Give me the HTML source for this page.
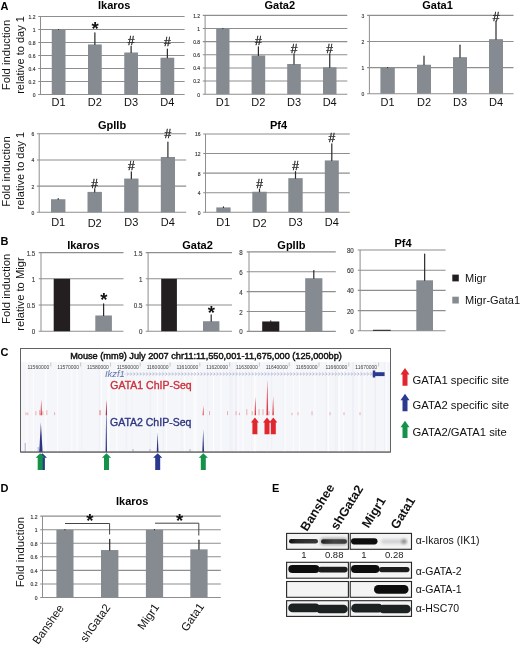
<!DOCTYPE html>
<html><head><meta charset="utf-8"><style>
html,body{margin:0;padding:0;background:#fff;}
body{width:520px;height:646px;overflow:hidden;}
svg{display:block;filter:blur(0.25px);font-family:"Liberation Sans", sans-serif;}
</style></head><body>
<svg width="520" height="646" viewBox="0 0 520 646">
<text x="0.5" y="10" font-size="11" font-weight="bold" text-anchor="start" fill="#000">A</text>
<text x="9.8" y="55" font-size="11.3" text-anchor="middle" fill="#111" transform="rotate(-90 9.8 55)">Fold induction</text>
<text x="23.7" y="55" font-size="11" text-anchor="middle" fill="#111" transform="rotate(-90 23.7 55)">relative to day 1</text>
<line x1="38.2" y1="94.5" x2="184.6" y2="94.5" stroke="#8e8e8e" stroke-width="1.1"/>
<text x="35.5" y="96.9" font-size="5" text-anchor="end" fill="#383838" stroke="#383838" stroke-width="0.15">0</text>
<line x1="38.2" y1="81.5" x2="184.6" y2="81.5" stroke="#8e8e8e" stroke-width="1.1"/>
<text x="35.5" y="83.9" font-size="5" text-anchor="end" fill="#383838" stroke="#383838" stroke-width="0.15">0.2</text>
<line x1="38.2" y1="68.5" x2="184.6" y2="68.5" stroke="#8e8e8e" stroke-width="1.1"/>
<text x="35.5" y="70.9" font-size="5" text-anchor="end" fill="#383838" stroke="#383838" stroke-width="0.15">0.4</text>
<line x1="38.2" y1="55.5" x2="184.6" y2="55.5" stroke="#8e8e8e" stroke-width="1.1"/>
<text x="35.5" y="57.9" font-size="5" text-anchor="end" fill="#383838" stroke="#383838" stroke-width="0.15">0.6</text>
<line x1="38.2" y1="42.5" x2="184.6" y2="42.5" stroke="#8e8e8e" stroke-width="1.1"/>
<text x="35.5" y="44.9" font-size="5" text-anchor="end" fill="#383838" stroke="#383838" stroke-width="0.15">0.8</text>
<line x1="38.2" y1="29.5" x2="184.6" y2="29.5" stroke="#8e8e8e" stroke-width="1.1"/>
<text x="35.5" y="31.9" font-size="5" text-anchor="end" fill="#383838" stroke="#383838" stroke-width="0.15">1</text>
<line x1="38.2" y1="16.5" x2="184.6" y2="16.5" stroke="#8e8e8e" stroke-width="1.1"/>
<text x="35.5" y="18.9" font-size="5" text-anchor="end" fill="#383838" stroke="#383838" stroke-width="0.15">1.2</text>
<line x1="40.5" y1="16.5" x2="40.5" y2="94.5" stroke="#8e8e8e" stroke-width="1"/>
<rect x="51.75" y="29.5" width="13.75" height="65.0" fill="#868b92"/>
<line x1="58.625" y1="29.5" x2="58.625" y2="29.5" stroke="#2a2a2a" stroke-width="1.2" stroke-linecap="round"/>
<rect x="88" y="44.449999999999996" width="13.75" height="50.050000000000004" fill="#868b92"/>
<line x1="94.875" y1="32.75" x2="94.875" y2="44.449999999999996" stroke="#2a2a2a" stroke-width="1.2" stroke-linecap="round"/>
<rect x="124.25" y="52.51" width="13.75" height="41.99" fill="#868b92"/>
<line x1="131.125" y1="46.4" x2="131.125" y2="52.51" stroke="#2a2a2a" stroke-width="1.2" stroke-linecap="round"/>
<rect x="160.5" y="57.71" width="13.75" height="36.79" fill="#868b92"/>
<line x1="167.375" y1="49.0" x2="167.375" y2="57.71" stroke="#2a2a2a" stroke-width="1.2" stroke-linecap="round"/>
<text x="114.2" y="9.1" font-size="11" font-weight="bold" text-anchor="middle" fill="#000">Ikaros</text>
<text x="95.2" y="35.2" font-size="18.5" font-weight="bold" text-anchor="middle" fill="#111">*</text>
<text x="131" y="44.5" font-size="12" text-anchor="middle" fill="#222" stroke="#222" stroke-width="0.3">#</text>
<text x="167.4" y="46.0" font-size="12" text-anchor="middle" fill="#222" stroke="#222" stroke-width="0.3">#</text>
<text x="58.6" y="105.8" font-size="11" text-anchor="middle" fill="#111">D1</text>
<text x="94.9" y="106.39999999999999" font-size="11" text-anchor="middle" fill="#111">D2</text>
<text x="131.1" y="105.8" font-size="11" text-anchor="middle" fill="#111">D3</text>
<text x="167.4" y="105.8" font-size="11" text-anchor="middle" fill="#111">D4</text>
<line x1="202.79999999999998" y1="94.2" x2="347.3" y2="94.2" stroke="#8e8e8e" stroke-width="1.1"/>
<text x="200.1" y="96.6" font-size="5" text-anchor="end" fill="#383838" stroke="#383838" stroke-width="0.15">0</text>
<line x1="202.79999999999998" y1="81.066" x2="347.3" y2="81.066" stroke="#8e8e8e" stroke-width="1.1"/>
<text x="200.1" y="83.47" font-size="5" text-anchor="end" fill="#383838" stroke="#383838" stroke-width="0.15">0.2</text>
<line x1="202.79999999999998" y1="67.932" x2="347.3" y2="67.932" stroke="#8e8e8e" stroke-width="1.1"/>
<text x="200.1" y="70.33" font-size="5" text-anchor="end" fill="#383838" stroke="#383838" stroke-width="0.15">0.4</text>
<line x1="202.79999999999998" y1="54.798" x2="347.3" y2="54.798" stroke="#8e8e8e" stroke-width="1.1"/>
<text x="200.1" y="57.2" font-size="5" text-anchor="end" fill="#383838" stroke="#383838" stroke-width="0.15">0.6</text>
<line x1="202.79999999999998" y1="41.664" x2="347.3" y2="41.664" stroke="#8e8e8e" stroke-width="1.1"/>
<text x="200.1" y="44.06" font-size="5" text-anchor="end" fill="#383838" stroke="#383838" stroke-width="0.15">0.8</text>
<line x1="202.79999999999998" y1="28.53" x2="347.3" y2="28.53" stroke="#8e8e8e" stroke-width="1.1"/>
<text x="200.1" y="30.93" font-size="5" text-anchor="end" fill="#383838" stroke="#383838" stroke-width="0.15">1</text>
<line x1="202.79999999999998" y1="15.396" x2="347.3" y2="15.396" stroke="#8e8e8e" stroke-width="1.1"/>
<text x="200.1" y="17.8" font-size="5" text-anchor="end" fill="#383838" stroke="#383838" stroke-width="0.15">1.2</text>
<line x1="205.1" y1="15.396" x2="205.1" y2="94.2" stroke="#8e8e8e" stroke-width="1"/>
<rect x="216.2" y="28.53" width="13.300000000000011" height="65.67" fill="#868b92"/>
<line x1="222.85" y1="28.53" x2="222.85" y2="28.53" stroke="#2a2a2a" stroke-width="1.2" stroke-linecap="round"/>
<rect x="251.6" y="55.4547" width="13.599999999999994" height="38.7453" fill="#868b92"/>
<line x1="258.4" y1="46.9176" x2="258.4" y2="55.4547" stroke="#2a2a2a" stroke-width="1.2" stroke-linecap="round"/>
<rect x="287.2" y="63.9918" width="13.600000000000023" height="30.208200000000005" fill="#868b92"/>
<line x1="294.0" y1="53.81295" x2="294.0" y2="63.9918" stroke="#2a2a2a" stroke-width="1.2" stroke-linecap="round"/>
<rect x="323" y="67.2753" width="13.5" height="26.9247" fill="#868b92"/>
<line x1="329.75" y1="53.81295" x2="329.75" y2="67.2753" stroke="#2a2a2a" stroke-width="1.2" stroke-linecap="round"/>
<text x="279.8" y="9.1" font-size="11" font-weight="bold" text-anchor="middle" fill="#000">Gata2</text>
<text x="258.4" y="44.8" font-size="12" text-anchor="middle" fill="#222" stroke="#222" stroke-width="0.3">#</text>
<text x="294" y="52.9" font-size="12" text-anchor="middle" fill="#222" stroke="#222" stroke-width="0.3">#</text>
<text x="329.7" y="52.9" font-size="12" text-anchor="middle" fill="#222" stroke="#222" stroke-width="0.3">#</text>
<text x="222.9" y="105.8" font-size="11" text-anchor="middle" fill="#111">D1</text>
<text x="258.4" y="106.39999999999999" font-size="11" text-anchor="middle" fill="#111">D2</text>
<text x="294.0" y="105.8" font-size="11" text-anchor="middle" fill="#111">D3</text>
<text x="329.7" y="105.8" font-size="11" text-anchor="middle" fill="#111">D4</text>
<line x1="367.09999999999997" y1="93.7" x2="513.5" y2="93.7" stroke="#8e8e8e" stroke-width="1.1"/>
<text x="364.4" y="96.1" font-size="5" text-anchor="end" fill="#383838" stroke="#383838" stroke-width="0.15">0</text>
<line x1="367.09999999999997" y1="67.6" x2="513.5" y2="67.6" stroke="#8e8e8e" stroke-width="1.1"/>
<text x="364.4" y="70.0" font-size="5" text-anchor="end" fill="#383838" stroke="#383838" stroke-width="0.15">1</text>
<line x1="367.09999999999997" y1="41.5" x2="513.5" y2="41.5" stroke="#8e8e8e" stroke-width="1.1"/>
<text x="364.4" y="43.9" font-size="5" text-anchor="end" fill="#383838" stroke="#383838" stroke-width="0.15">2</text>
<line x1="367.09999999999997" y1="15.399999999999991" x2="513.5" y2="15.399999999999991" stroke="#8e8e8e" stroke-width="1.1"/>
<text x="364.4" y="17.8" font-size="5" text-anchor="end" fill="#383838" stroke="#383838" stroke-width="0.15">3</text>
<line x1="369.4" y1="15.399999999999991" x2="369.4" y2="93.7" stroke="#8e8e8e" stroke-width="1"/>
<rect x="380.4" y="67.6" width="14.400000000000034" height="26.10000000000001" fill="#868b92"/>
<line x1="387.6" y1="67.6" x2="387.6" y2="67.6" stroke="#2a2a2a" stroke-width="1.2" stroke-linecap="round"/>
<rect x="417" y="64.729" width="14" height="28.971000000000004" fill="#868b92"/>
<line x1="424.0" y1="56.116" x2="424.0" y2="64.729" stroke="#2a2a2a" stroke-width="1.2" stroke-linecap="round"/>
<rect x="453" y="57.160000000000004" width="14" height="36.54" fill="#868b92"/>
<line x1="460.0" y1="45.153999999999996" x2="460.0" y2="57.160000000000004" stroke="#2a2a2a" stroke-width="1.2" stroke-linecap="round"/>
<rect x="489" y="39.151" width="14" height="54.549" fill="#868b92"/>
<line x1="496.0" y1="21.14200000000001" x2="496.0" y2="39.151" stroke="#2a2a2a" stroke-width="1.2" stroke-linecap="round"/>
<text x="437.5" y="9.1" font-size="11" font-weight="bold" text-anchor="middle" fill="#000">Gata1</text>
<text x="496" y="20.8" font-size="12" text-anchor="middle" fill="#222" stroke="#222" stroke-width="0.3">#</text>
<text x="387.6" y="105.8" font-size="11" text-anchor="middle" fill="#111">D1</text>
<text x="424" y="106.39999999999999" font-size="11" text-anchor="middle" fill="#111">D2</text>
<text x="460" y="105.8" font-size="11" text-anchor="middle" fill="#111">D3</text>
<text x="496" y="105.8" font-size="11" text-anchor="middle" fill="#111">D4</text>
<text x="9.8" y="171.5" font-size="11.3" text-anchor="middle" fill="#111" transform="rotate(-90 9.8 171.5)">Fold induction</text>
<text x="23.7" y="170.6" font-size="11" text-anchor="middle" fill="#111" transform="rotate(-90 23.7 170.6)">relative to day 1</text>
<line x1="36.900000000000006" y1="212.3" x2="186.2" y2="212.3" stroke="#8e8e8e" stroke-width="1.1"/>
<text x="34.2" y="214.7" font-size="5" text-anchor="end" fill="#383838" stroke="#383838" stroke-width="0.15">0</text>
<line x1="36.900000000000006" y1="186.14000000000001" x2="186.2" y2="186.14000000000001" stroke="#8e8e8e" stroke-width="1.1"/>
<text x="34.2" y="188.54" font-size="5" text-anchor="end" fill="#383838" stroke="#383838" stroke-width="0.15">2</text>
<line x1="36.900000000000006" y1="159.98000000000002" x2="186.2" y2="159.98000000000002" stroke="#8e8e8e" stroke-width="1.1"/>
<text x="34.2" y="162.38" font-size="5" text-anchor="end" fill="#383838" stroke="#383838" stroke-width="0.15">4</text>
<line x1="36.900000000000006" y1="133.82" x2="186.2" y2="133.82" stroke="#8e8e8e" stroke-width="1.1"/>
<text x="34.2" y="136.22" font-size="5" text-anchor="end" fill="#383838" stroke="#383838" stroke-width="0.15">6</text>
<line x1="39.2" y1="133.82" x2="39.2" y2="212.3" stroke="#8e8e8e" stroke-width="1"/>
<rect x="51" y="199.22" width="14.400000000000006" height="13.080000000000013" fill="#868b92"/>
<line x1="58.2" y1="198.566" x2="58.2" y2="199.22" stroke="#2a2a2a" stroke-width="1.2" stroke-linecap="round"/>
<rect x="87.5" y="191.89520000000002" width="14.400000000000006" height="20.404799999999994" fill="#868b92"/>
<line x1="94.7" y1="188.756" x2="94.7" y2="191.89520000000002" stroke="#2a2a2a" stroke-width="1.2" stroke-linecap="round"/>
<rect x="124.2" y="178.55360000000002" width="14.299999999999997" height="33.746399999999994" fill="#868b92"/>
<line x1="131.35" y1="171.752" x2="131.35" y2="178.55360000000002" stroke="#2a2a2a" stroke-width="1.2" stroke-linecap="round"/>
<rect x="160.8" y="156.9716" width="14.199999999999989" height="55.328400000000016" fill="#868b92"/>
<line x1="167.9" y1="142.06040000000002" x2="167.9" y2="156.9716" stroke="#2a2a2a" stroke-width="1.2" stroke-linecap="round"/>
<text x="112.1" y="129.4" font-size="11" font-weight="bold" text-anchor="middle" fill="#000">GpIIb</text>
<text x="94.7" y="187.60000000000002" font-size="12" text-anchor="middle" fill="#222" stroke="#222" stroke-width="0.3">#</text>
<text x="131.3" y="170.3" font-size="12" text-anchor="middle" fill="#222" stroke="#222" stroke-width="0.3">#</text>
<text x="167.9" y="138.3" font-size="12" text-anchor="middle" fill="#222" stroke="#222" stroke-width="0.3">#</text>
<text x="58.2" y="225.6" font-size="11" text-anchor="middle" fill="#111">D1</text>
<text x="94.7" y="226.9" font-size="11" text-anchor="middle" fill="#111">D2</text>
<text x="131.3" y="225.6" font-size="11" text-anchor="middle" fill="#111">D3</text>
<text x="167.9" y="225.6" font-size="11" text-anchor="middle" fill="#111">D4</text>
<line x1="203.2" y1="212.3" x2="349.8" y2="212.3" stroke="#8e8e8e" stroke-width="1.1"/>
<text x="200.5" y="214.7" font-size="5" text-anchor="end" fill="#383838" stroke="#383838" stroke-width="0.15">0</text>
<line x1="203.2" y1="192.72400000000002" x2="349.8" y2="192.72400000000002" stroke="#8e8e8e" stroke-width="1.1"/>
<text x="200.5" y="195.12" font-size="5" text-anchor="end" fill="#383838" stroke="#383838" stroke-width="0.15">4</text>
<line x1="203.2" y1="173.14800000000002" x2="349.8" y2="173.14800000000002" stroke="#8e8e8e" stroke-width="1.1"/>
<text x="200.5" y="175.55" font-size="5" text-anchor="end" fill="#383838" stroke="#383838" stroke-width="0.15">8</text>
<line x1="203.2" y1="153.572" x2="349.8" y2="153.572" stroke="#8e8e8e" stroke-width="1.1"/>
<text x="200.5" y="155.97" font-size="5" text-anchor="end" fill="#383838" stroke="#383838" stroke-width="0.15">12</text>
<line x1="203.2" y1="133.996" x2="349.8" y2="133.996" stroke="#8e8e8e" stroke-width="1.1"/>
<text x="200.5" y="136.4" font-size="5" text-anchor="end" fill="#383838" stroke="#383838" stroke-width="0.15">16</text>
<line x1="205.5" y1="133.996" x2="205.5" y2="212.3" stroke="#8e8e8e" stroke-width="1"/>
<rect x="216.3" y="207.406" width="14.299999999999983" height="4.8940000000000055" fill="#868b92"/>
<line x1="223.45" y1="206.91660000000002" x2="223.45" y2="207.406" stroke="#2a2a2a" stroke-width="1.2" stroke-linecap="round"/>
<rect x="252.3" y="191.7452" width="14.399999999999977" height="20.5548" fill="#868b92"/>
<line x1="259.5" y1="189.0535" x2="259.5" y2="191.7452" stroke="#2a2a2a" stroke-width="1.2" stroke-linecap="round"/>
<rect x="288.3" y="178.13988" width="14.399999999999977" height="34.160120000000006" fill="#868b92"/>
<line x1="295.5" y1="171.6798" x2="295.5" y2="178.13988" stroke="#2a2a2a" stroke-width="1.2" stroke-linecap="round"/>
<rect x="324.8" y="160.42360000000002" width="14.0" height="51.87639999999999" fill="#868b92"/>
<line x1="331.8" y1="143.784" x2="331.8" y2="160.42360000000002" stroke="#2a2a2a" stroke-width="1.2" stroke-linecap="round"/>
<text x="278.5" y="129.4" font-size="11" font-weight="bold" text-anchor="middle" fill="#000">Pf4</text>
<text x="259.5" y="187.8" font-size="12" text-anchor="middle" fill="#222" stroke="#222" stroke-width="0.3">#</text>
<text x="295.5" y="170.3" font-size="12" text-anchor="middle" fill="#222" stroke="#222" stroke-width="0.3">#</text>
<text x="331.8" y="142.0" font-size="12" text-anchor="middle" fill="#222" stroke="#222" stroke-width="0.3">#</text>
<text x="223.4" y="225.6" font-size="11" text-anchor="middle" fill="#111">D1</text>
<text x="259.5" y="226.9" font-size="11" text-anchor="middle" fill="#111">D2</text>
<text x="295.5" y="225.6" font-size="11" text-anchor="middle" fill="#111">D3</text>
<text x="331.8" y="225.6" font-size="11" text-anchor="middle" fill="#111">D4</text>
<text x="0.5" y="245.4" font-size="11" font-weight="bold" text-anchor="start" fill="#000">B</text>
<text x="9.6" y="288.8" font-size="11.3" text-anchor="middle" fill="#111" transform="rotate(-90 9.6 288.8)">Fold induction</text>
<text x="23.6" y="294" font-size="11.2" text-anchor="middle" fill="#111" transform="rotate(-90 23.6 294)">relative to Migr</text>
<line x1="38.7" y1="331.2" x2="123.5" y2="331.2" stroke="#8e8e8e" stroke-width="1.1"/>
<text x="0" y="0" font-size="7.6" text-anchor="end" fill="#383838" transform="translate(35.3 334.18) scale(0.82 1)" stroke="#383838" stroke-width="0.15">0</text>
<line x1="38.7" y1="305.0" x2="123.5" y2="305.0" stroke="#8e8e8e" stroke-width="1.1"/>
<text x="0" y="0" font-size="7.6" text-anchor="end" fill="#383838" transform="translate(35.3 307.98) scale(0.82 1)" stroke="#383838" stroke-width="0.15">0.5</text>
<line x1="38.7" y1="278.8" x2="123.5" y2="278.8" stroke="#8e8e8e" stroke-width="1.1"/>
<text x="0" y="0" font-size="7.6" text-anchor="end" fill="#383838" transform="translate(35.3 281.78) scale(0.82 1)" stroke="#383838" stroke-width="0.15">1</text>
<line x1="38.7" y1="252.6" x2="123.5" y2="252.6" stroke="#8e8e8e" stroke-width="1.1"/>
<text x="0" y="0" font-size="7.6" text-anchor="end" fill="#383838" transform="translate(35.3 255.58) scale(0.82 1)" stroke="#383838" stroke-width="0.15">1.5</text>
<line x1="41.0" y1="252.6" x2="41.0" y2="331.2" stroke="#8e8e8e" stroke-width="1"/>
<rect x="53.7" y="278.8" width="16.39999999999999" height="52.39999999999998" fill="#231f20"/>
<rect x="95.3" y="315.48" width="16.60000000000001" height="15.71999999999997" fill="#868b92"/>
<line x1="103.6" y1="303.952" x2="103.6" y2="315.48" stroke="#2a2a2a" stroke-width="1.2" stroke-linecap="round"/>
<text x="83.4" y="249.2" font-size="11" font-weight="bold" text-anchor="middle" fill="#000">Ikaros</text>
<text x="103.8" y="306.40000000000003" font-size="18.5" font-weight="bold" text-anchor="middle" fill="#111">*</text>
<line x1="145.79999999999998" y1="331.2" x2="232" y2="331.2" stroke="#8e8e8e" stroke-width="1.1"/>
<text x="0" y="0" font-size="7.6" text-anchor="end" fill="#383838" transform="translate(142.4 334.18) scale(0.82 1)" stroke="#383838" stroke-width="0.15">0</text>
<line x1="145.79999999999998" y1="305.0" x2="232" y2="305.0" stroke="#8e8e8e" stroke-width="1.1"/>
<text x="0" y="0" font-size="7.6" text-anchor="end" fill="#383838" transform="translate(142.4 307.98) scale(0.82 1)" stroke="#383838" stroke-width="0.15">0.5</text>
<line x1="145.79999999999998" y1="278.8" x2="232" y2="278.8" stroke="#8e8e8e" stroke-width="1.1"/>
<text x="0" y="0" font-size="7.6" text-anchor="end" fill="#383838" transform="translate(142.4 281.78) scale(0.82 1)" stroke="#383838" stroke-width="0.15">1</text>
<line x1="145.79999999999998" y1="252.6" x2="232" y2="252.6" stroke="#8e8e8e" stroke-width="1.1"/>
<text x="0" y="0" font-size="7.6" text-anchor="end" fill="#383838" transform="translate(142.4 255.58) scale(0.82 1)" stroke="#383838" stroke-width="0.15">1.5</text>
<line x1="148.1" y1="252.6" x2="148.1" y2="331.2" stroke="#8e8e8e" stroke-width="1"/>
<rect x="161.2" y="278.8" width="15.700000000000017" height="52.39999999999998" fill="#231f20"/>
<rect x="203" y="321.24399999999997" width="16.400000000000006" height="9.956000000000017" fill="#868b92"/>
<line x1="211.2" y1="314.956" x2="211.2" y2="321.24399999999997" stroke="#2a2a2a" stroke-width="1.2" stroke-linecap="round"/>
<text x="197.5" y="249.2" font-size="11" font-weight="bold" text-anchor="middle" fill="#000">Gata2</text>
<text x="211.4" y="318.5" font-size="18.5" font-weight="bold" text-anchor="middle" fill="#111">*</text>
<line x1="246.7" y1="331.4" x2="335.8" y2="331.4" stroke="#8e8e8e" stroke-width="1.1"/>
<text x="0" y="0" font-size="7.6" text-anchor="end" fill="#383838" transform="translate(242.7 334.38) scale(0.82 1)" stroke="#383838" stroke-width="0.15">0</text>
<line x1="246.7" y1="311.52" x2="335.8" y2="311.52" stroke="#8e8e8e" stroke-width="1.1"/>
<text x="0" y="0" font-size="7.6" text-anchor="end" fill="#383838" transform="translate(242.7 314.5) scale(0.82 1)" stroke="#383838" stroke-width="0.15">2</text>
<line x1="246.7" y1="291.64" x2="335.8" y2="291.64" stroke="#8e8e8e" stroke-width="1.1"/>
<text x="0" y="0" font-size="7.6" text-anchor="end" fill="#383838" transform="translate(242.7 294.62) scale(0.82 1)" stroke="#383838" stroke-width="0.15">4</text>
<line x1="246.7" y1="271.76" x2="335.8" y2="271.76" stroke="#8e8e8e" stroke-width="1.1"/>
<text x="0" y="0" font-size="7.6" text-anchor="end" fill="#383838" transform="translate(242.7 274.74) scale(0.82 1)" stroke="#383838" stroke-width="0.15">6</text>
<line x1="246.7" y1="251.88" x2="335.8" y2="251.88" stroke="#8e8e8e" stroke-width="1.1"/>
<text x="0" y="0" font-size="7.6" text-anchor="end" fill="#383838" transform="translate(242.7 254.86) scale(0.82 1)" stroke="#383838" stroke-width="0.15">8</text>
<line x1="249" y1="251.88" x2="249" y2="331.4" stroke="#8e8e8e" stroke-width="1"/>
<rect x="262.2" y="321.46" width="17.100000000000023" height="9.939999999999998" fill="#231f20"/>
<line x1="270.75" y1="320.96299999999997" x2="270.75" y2="321.46" stroke="#2a2a2a" stroke-width="1.2" stroke-linecap="round"/>
<rect x="305.2" y="278.221" width="17.19999999999999" height="53.178999999999974" fill="#868b92"/>
<line x1="313.79999999999995" y1="270.56719999999996" x2="313.79999999999995" y2="278.221" stroke="#2a2a2a" stroke-width="1.2" stroke-linecap="round"/>
<text x="291.4" y="248.5" font-size="11" font-weight="bold" text-anchor="middle" fill="#000">GpIIb</text>
<line x1="357.8" y1="330.8" x2="445.6" y2="330.8" stroke="#8e8e8e" stroke-width="1.1"/>
<text x="0" y="0" font-size="7.6" text-anchor="end" fill="#383838" transform="translate(353.8 333.78) scale(0.82 1)" stroke="#383838" stroke-width="0.15">0</text>
<line x1="357.8" y1="310.6" x2="445.6" y2="310.6" stroke="#8e8e8e" stroke-width="1.1"/>
<text x="0" y="0" font-size="7.6" text-anchor="end" fill="#383838" transform="translate(353.8 313.58) scale(0.82 1)" stroke="#383838" stroke-width="0.15">20</text>
<line x1="357.8" y1="290.40000000000003" x2="445.6" y2="290.40000000000003" stroke="#8e8e8e" stroke-width="1.1"/>
<text x="0" y="0" font-size="7.6" text-anchor="end" fill="#383838" transform="translate(353.8 293.38) scale(0.82 1)" stroke="#383838" stroke-width="0.15">40</text>
<line x1="357.8" y1="270.2" x2="445.6" y2="270.2" stroke="#8e8e8e" stroke-width="1.1"/>
<text x="0" y="0" font-size="7.6" text-anchor="end" fill="#383838" transform="translate(353.8 273.18) scale(0.82 1)" stroke="#383838" stroke-width="0.15">60</text>
<line x1="357.8" y1="250.0" x2="445.6" y2="250.0" stroke="#8e8e8e" stroke-width="1.1"/>
<text x="0" y="0" font-size="7.6" text-anchor="end" fill="#383838" transform="translate(353.8 252.98) scale(0.82 1)" stroke="#383838" stroke-width="0.15">80</text>
<line x1="360.1" y1="250.0" x2="360.1" y2="330.8" stroke="#8e8e8e" stroke-width="1"/>
<rect x="373" y="329.79" width="17.69999999999999" height="1.009999999999991" fill="#231f20"/>
<rect x="416.3" y="280.3" width="16.69999999999999" height="50.5" fill="#868b92"/>
<line x1="424.65" y1="254.04000000000002" x2="424.65" y2="280.3" stroke="#2a2a2a" stroke-width="1.2" stroke-linecap="round"/>
<text x="403" y="247.3" font-size="11" font-weight="bold" text-anchor="middle" fill="#000">Pf4</text>
<rect x="452.3" y="274.6" width="6.5" height="6.8" fill="#231f20"/>
<text x="465" y="281.8" font-size="11" text-anchor="start" fill="#111">Migr</text>
<rect x="452.3" y="296.7" width="6.5" height="6.8" fill="#868b92"/>
<text x="465" y="303.8" font-size="11" text-anchor="start" fill="#111">Migr-Gata1</text>
<text x="0.5" y="355.5" font-size="11" font-weight="bold" text-anchor="start" fill="#000">C</text>
<rect x="20.5" y="348.5" width="370" height="103.5" fill="#ffffff" stroke="#626262" stroke-width="1"/>
<rect x="21" y="362" width="369" height="89.5" fill="#f5f6f9"/>
<path d="M109.1 362V451.5 M221.2 362V451.5 M157.4 362V451.5 M243.0 362V451.5 M251.0 362V451.5 M46.0 362V451.5 M26.8 362V451.5 M328.5 362V451.5 M116.9 362V451.5 M107.8 362V451.5 M386.4 362V451.5 M194.1 362V451.5 M328.1 362V451.5 M196.3 362V451.5 M255.9 362V451.5 M77.1 362V451.5 M254.4 362V451.5 M339.7 362V451.5 M213.5 362V451.5 M293.3 362V451.5 M267.7 362V451.5 M45.4 362V451.5 M299.5 362V451.5 M238.3 362V451.5 M132.3 362V451.5 M33.4 362V451.5 M338.8 362V451.5 M195.0 362V451.5 M285.1 362V451.5 M343.6 362V451.5 M283.4 362V451.5 M359.1 362V451.5 M166.6 362V451.5 M315.1 362V451.5 M184.7 362V451.5 M364.4 362V451.5 M343.7 362V451.5 M57.7 362V451.5 M71.8 362V451.5 M101.4 362V451.5" stroke="#fdfdff" stroke-width="1"/>
<path d="M375.4 362V451.5 M181.6 362V451.5 M251.4 362V451.5 M132.2 362V451.5 M207.7 362V451.5 M163.2 362V451.5 M150.4 362V451.5 M236.1 362V451.5 M235.8 362V451.5 M352.9 362V451.5 M271.6 362V451.5 M362.0 362V451.5 M335.4 362V451.5 M384.7 362V451.5 M267.7 362V451.5 M81.7 362V451.5 M337.0 362V451.5 M375.1 362V451.5 M353.1 362V451.5 M230.3 362V451.5 M283.3 362V451.5 M99.3 362V451.5 M326.4 362V451.5 M231.9 362V451.5 M126.3 362V451.5" stroke="#eceef4" stroke-width="0.8"/>
<text x="206" y="359.3" font-size="9.2" text-anchor="middle" fill="#111" stroke="#111" stroke-width="0.45">Mouse (mm9) July 2007 chr11:11,550,001-11,675,000 (125,000bp)</text>
<text x="49.3" y="368.9" font-size="5.0" text-anchor="end" fill="#444">11560000</text>
<line x1="50.8" y1="362.5" x2="50.8" y2="366.5" stroke="#aaa" stroke-width="0.6"/>
<text x="79.1" y="368.9" font-size="5.0" text-anchor="end" fill="#444">11570000</text>
<line x1="80.6" y1="362.5" x2="80.6" y2="366.5" stroke="#aaa" stroke-width="0.6"/>
<text x="108.9" y="368.9" font-size="5.0" text-anchor="end" fill="#444">11580000</text>
<line x1="110.4" y1="362.5" x2="110.4" y2="366.5" stroke="#aaa" stroke-width="0.6"/>
<text x="138.7" y="368.9" font-size="5.0" text-anchor="end" fill="#444">11590000</text>
<line x1="140.2" y1="362.5" x2="140.2" y2="366.5" stroke="#aaa" stroke-width="0.6"/>
<text x="168.5" y="368.9" font-size="5.0" text-anchor="end" fill="#444">11600000</text>
<line x1="170.0" y1="362.5" x2="170.0" y2="366.5" stroke="#aaa" stroke-width="0.6"/>
<text x="198.3" y="368.9" font-size="5.0" text-anchor="end" fill="#444">11610000</text>
<line x1="199.8" y1="362.5" x2="199.8" y2="366.5" stroke="#aaa" stroke-width="0.6"/>
<text x="228.10000000000002" y="368.9" font-size="5.0" text-anchor="end" fill="#444">11620000</text>
<line x1="229.60000000000002" y1="362.5" x2="229.60000000000002" y2="366.5" stroke="#aaa" stroke-width="0.6"/>
<text x="257.9" y="368.9" font-size="5.0" text-anchor="end" fill="#444">11630000</text>
<line x1="259.4" y1="362.5" x2="259.4" y2="366.5" stroke="#aaa" stroke-width="0.6"/>
<text x="287.7" y="368.9" font-size="5.0" text-anchor="end" fill="#444">11640000</text>
<line x1="289.2" y1="362.5" x2="289.2" y2="366.5" stroke="#aaa" stroke-width="0.6"/>
<text x="317.5" y="368.9" font-size="5.0" text-anchor="end" fill="#444">11650000</text>
<line x1="319.0" y1="362.5" x2="319.0" y2="366.5" stroke="#aaa" stroke-width="0.6"/>
<text x="347.3" y="368.9" font-size="5.0" text-anchor="end" fill="#444">11660000</text>
<line x1="348.8" y1="362.5" x2="348.8" y2="366.5" stroke="#aaa" stroke-width="0.6"/>
<text x="377.1" y="368.9" font-size="5.0" text-anchor="end" fill="#444">11670000</text>
<line x1="378.6" y1="362.5" x2="378.6" y2="366.5" stroke="#aaa" stroke-width="0.6"/>
<text x="105" y="377.0" font-size="9.4" font-style="italic" text-anchor="start" fill="#5d6fa8">Ikzf1</text>
<path d="M127.0 372.6l1.6 1.4l-1.6 1.4 M130.2 372.6l1.6 1.4l-1.6 1.4 M133.4 372.6l1.6 1.4l-1.6 1.4 M136.6 372.6l1.6 1.4l-1.6 1.4 M139.8 372.6l1.6 1.4l-1.6 1.4 M143.0 372.6l1.6 1.4l-1.6 1.4 M146.2 372.6l1.6 1.4l-1.6 1.4 M149.4 372.6l1.6 1.4l-1.6 1.4 M152.6 372.6l1.6 1.4l-1.6 1.4 M155.8 372.6l1.6 1.4l-1.6 1.4 M159.0 372.6l1.6 1.4l-1.6 1.4 M162.2 372.6l1.6 1.4l-1.6 1.4 M165.4 372.6l1.6 1.4l-1.6 1.4 M168.6 372.6l1.6 1.4l-1.6 1.4 M171.8 372.6l1.6 1.4l-1.6 1.4 M175.0 372.6l1.6 1.4l-1.6 1.4 M178.2 372.6l1.6 1.4l-1.6 1.4 M181.4 372.6l1.6 1.4l-1.6 1.4 M184.6 372.6l1.6 1.4l-1.6 1.4 M187.8 372.6l1.6 1.4l-1.6 1.4 M191.0 372.6l1.6 1.4l-1.6 1.4 M194.2 372.6l1.6 1.4l-1.6 1.4 M197.4 372.6l1.6 1.4l-1.6 1.4 M200.6 372.6l1.6 1.4l-1.6 1.4 M203.8 372.6l1.6 1.4l-1.6 1.4 M207.0 372.6l1.6 1.4l-1.6 1.4 M210.2 372.6l1.6 1.4l-1.6 1.4 M213.4 372.6l1.6 1.4l-1.6 1.4 M216.6 372.6l1.6 1.4l-1.6 1.4 M219.8 372.6l1.6 1.4l-1.6 1.4 M223.0 372.6l1.6 1.4l-1.6 1.4 M226.2 372.6l1.6 1.4l-1.6 1.4 M229.4 372.6l1.6 1.4l-1.6 1.4 M232.6 372.6l1.6 1.4l-1.6 1.4 M235.8 372.6l1.6 1.4l-1.6 1.4 M239.0 372.6l1.6 1.4l-1.6 1.4 M242.2 372.6l1.6 1.4l-1.6 1.4 M245.4 372.6l1.6 1.4l-1.6 1.4 M248.6 372.6l1.6 1.4l-1.6 1.4 M251.8 372.6l1.6 1.4l-1.6 1.4 M255.0 372.6l1.6 1.4l-1.6 1.4 M258.2 372.6l1.6 1.4l-1.6 1.4 M261.4 372.6l1.6 1.4l-1.6 1.4 M264.6 372.6l1.6 1.4l-1.6 1.4 M267.8 372.6l1.6 1.4l-1.6 1.4 M271.0 372.6l1.6 1.4l-1.6 1.4 M274.2 372.6l1.6 1.4l-1.6 1.4 M277.4 372.6l1.6 1.4l-1.6 1.4 M280.6 372.6l1.6 1.4l-1.6 1.4 M283.8 372.6l1.6 1.4l-1.6 1.4 M287.0 372.6l1.6 1.4l-1.6 1.4 M290.2 372.6l1.6 1.4l-1.6 1.4 M293.4 372.6l1.6 1.4l-1.6 1.4 M296.6 372.6l1.6 1.4l-1.6 1.4 M299.8 372.6l1.6 1.4l-1.6 1.4 M303.0 372.6l1.6 1.4l-1.6 1.4 M306.2 372.6l1.6 1.4l-1.6 1.4 M309.4 372.6l1.6 1.4l-1.6 1.4 M312.6 372.6l1.6 1.4l-1.6 1.4 M315.8 372.6l1.6 1.4l-1.6 1.4 M319.0 372.6l1.6 1.4l-1.6 1.4 M322.2 372.6l1.6 1.4l-1.6 1.4 M325.4 372.6l1.6 1.4l-1.6 1.4 M328.6 372.6l1.6 1.4l-1.6 1.4 M331.8 372.6l1.6 1.4l-1.6 1.4 M335.0 372.6l1.6 1.4l-1.6 1.4 M338.2 372.6l1.6 1.4l-1.6 1.4 M341.4 372.6l1.6 1.4l-1.6 1.4 M344.6 372.6l1.6 1.4l-1.6 1.4 M347.8 372.6l1.6 1.4l-1.6 1.4 M351.0 372.6l1.6 1.4l-1.6 1.4 M354.2 372.6l1.6 1.4l-1.6 1.4 M357.4 372.6l1.6 1.4l-1.6 1.4 M360.6 372.6l1.6 1.4l-1.6 1.4 M363.8 372.6l1.6 1.4l-1.6 1.4 M367.0 372.6l1.6 1.4l-1.6 1.4 M370.2 372.6l1.6 1.4l-1.6 1.4" stroke="#98a0c6" stroke-width="0.7" fill="none"/>
<line x1="105" y1="374.1" x2="372" y2="374.1" stroke="#c8cde0" stroke-width="0.5"/>
<rect x="372.8" y="370.5" width="2.4" height="7" fill="#2b3990"/>
<rect x="372.8" y="372.2" width="11.8" height="3.9" fill="#2b3990"/>
<text x="110.3" y="389.3" font-size="10.5" text-anchor="start" fill="#cc3039" stroke="#cc3039" stroke-width="0.35">GATA1 ChIP-Seq</text>
<text x="110" y="425.6" font-size="10.5" text-anchor="start" fill="#2e3580" stroke="#2e3580" stroke-width="0.35">GATA2 ChIP-Seq</text>
<path d="M40.45 415.2L41.2 399.2L41.95 415.2Z" fill="#dc3a46"/>
<path d="M105.7 415.2L106.4 399.6L107.10000000000001 415.2Z" fill="#dc3a46"/>
<path d="M202.6 415.2L203.2 405.5L203.79999999999998 415.2Z" fill="#dc3a46"/>
<path d="M254.55 415.2L255.3 396.2L256.05 415.2Z" fill="#dc3a46"/>
<path d="M266.40000000000003 415.2L267.3 379.4L268.2 415.2Z" fill="#dc3a46"/>
<path d="M272.35 415.2L273.1 396.2L273.85 415.2Z" fill="#dc3a46"/>
<line x1="26" y1="412.2" x2="26" y2="415.2" stroke="#e79aa0" stroke-width="0.8"/>
<line x1="27.8" y1="412.7" x2="27.8" y2="415.2" stroke="#e79aa0" stroke-width="0.8"/>
<line x1="35.9" y1="411.2" x2="35.9" y2="415.2" stroke="#e79aa0" stroke-width="0.8"/>
<line x1="39.6" y1="410.2" x2="39.6" y2="415.2" stroke="#e79aa0" stroke-width="0.8"/>
<line x1="42.8" y1="411.2" x2="42.8" y2="415.2" stroke="#e79aa0" stroke-width="0.8"/>
<line x1="46.8" y1="410.2" x2="46.8" y2="415.2" stroke="#e79aa0" stroke-width="0.8"/>
<line x1="54.6" y1="412.2" x2="54.6" y2="415.2" stroke="#e79aa0" stroke-width="0.8"/>
<line x1="99.6" y1="410.2" x2="99.6" y2="415.2" stroke="#e79aa0" stroke-width="0.8"/>
<line x1="100.6" y1="410.2" x2="100.6" y2="415.2" stroke="#e79aa0" stroke-width="0.8"/>
<line x1="209.5" y1="411.2" x2="209.5" y2="415.2" stroke="#e79aa0" stroke-width="0.8"/>
<line x1="227.5" y1="411.2" x2="227.5" y2="415.2" stroke="#e79aa0" stroke-width="0.8"/>
<line x1="236" y1="411.2" x2="236" y2="415.2" stroke="#e79aa0" stroke-width="0.8"/>
<line x1="239.4" y1="412.7" x2="239.4" y2="415.2" stroke="#e79aa0" stroke-width="0.8"/>
<line x1="246.8" y1="409.2" x2="246.8" y2="415.2" stroke="#e79aa0" stroke-width="0.8"/>
<line x1="252.2" y1="411.2" x2="252.2" y2="415.2" stroke="#e79aa0" stroke-width="0.8"/>
<line x1="259" y1="409.2" x2="259" y2="415.2" stroke="#e79aa0" stroke-width="0.8"/>
<line x1="263" y1="409.2" x2="263" y2="415.2" stroke="#e79aa0" stroke-width="0.8"/>
<line x1="269" y1="411.2" x2="269" y2="415.2" stroke="#e79aa0" stroke-width="0.8"/>
<line x1="292" y1="412.7" x2="292" y2="415.2" stroke="#e79aa0" stroke-width="0.8"/>
<line x1="298" y1="412.2" x2="298" y2="415.2" stroke="#e79aa0" stroke-width="0.8"/>
<line x1="312" y1="411.2" x2="312" y2="415.2" stroke="#e79aa0" stroke-width="0.8"/>
<line x1="330" y1="412.2" x2="330" y2="415.2" stroke="#e79aa0" stroke-width="0.8"/>
<line x1="344" y1="412.2" x2="344" y2="415.2" stroke="#e79aa0" stroke-width="0.8"/>
<line x1="360" y1="412.2" x2="360" y2="415.2" stroke="#e79aa0" stroke-width="0.8"/>
<path d="M39.199999999999996 452L40.9 422.7L42.6 452Z" fill="#2e3580"/>
<path d="M105.6 452L106.3 400L107.0 452Z" fill="#2e3580"/>
<path d="M156.7 452L157.6 432.4L158.5 452Z" fill="#2e3580"/>
<path d="M202.29999999999998 452L203.2 429.5L204.1 452Z" fill="#2e3580"/>
<line x1="25.2" y1="443" x2="25.2" y2="452" stroke="#9aa0c8" stroke-width="0.8"/>
<line x1="38.2" y1="447" x2="38.2" y2="452" stroke="#9aa0c8" stroke-width="0.8"/>
<line x1="133" y1="449" x2="133" y2="452" stroke="#9aa0c8" stroke-width="0.8"/>
<line x1="150" y1="449" x2="150" y2="452" stroke="#9aa0c8" stroke-width="0.8"/>
<line x1="190" y1="449" x2="190" y2="452" stroke="#9aa0c8" stroke-width="0.8"/>
<line x1="20.5" y1="452" x2="390.5" y2="452" stroke="#555" stroke-width="1.1"/>
<path d="M42.4 453.3L47.0 457.8L44.9 457.8L44.9 469.9L39.9 469.9L39.9 457.8L37.8 457.8Z" fill="#2b3990"/>
<path d="M40.2 453.3L44.800000000000004 457.8L42.7 457.8L42.7 469.9L37.7 469.9L37.7 457.8L35.6 457.8Z" fill="#15924a"/>
<path d="M106.5 453.3L111.1 457.8L109.0 457.8L109.0 469.9L104.0 469.9L104.0 457.8L101.9 457.8Z" fill="#15924a"/>
<path d="M157.7 453.3L162.29999999999998 457.8L160.2 457.8L160.2 469.9L155.2 469.9L155.2 457.8L153.1 457.8Z" fill="#2b3990"/>
<path d="M203.3 453.3L207.9 457.8L205.8 457.8L205.8 469.9L200.8 469.9L200.8 457.8L198.70000000000002 457.8Z" fill="#15924a"/>
<path d="M254.9 417.4L258.9 422.4L257.4 422.4L257.4 434.3L252.4 434.3L252.4 422.4L250.9 422.4Z" fill="#e0262e"/>
<path d="M267.0 417.4L271.0 422.4L269.5 422.4L269.5 434.3L264.5 434.3L264.5 422.4L263.0 422.4Z" fill="#e0262e"/>
<path d="M273.3 417.4L277.3 422.4L275.8 422.4L275.8 434.3L270.8 434.3L270.8 422.4L269.3 422.4Z" fill="#e0262e"/>
<path d="M405 368L409.5 374.5L407.5 374.5L407.5 385.8L402.5 385.8L402.5 374.5L400.5 374.5Z" fill="#e0262e"/>
<path d="M405 393.8L409.5 400.3L407.5 400.3L407.5 411.3L402.5 411.3L402.5 400.3L400.5 400.3Z" fill="#2b3990"/>
<path d="M405 420.8L409.5 427.3L407.5 427.3L407.5 438L402.5 438L402.5 427.3L400.5 427.3Z" fill="#15924a"/>
<text x="412.5" y="383.8" font-size="11.25" text-anchor="start" fill="#111">GATA1 specific site</text>
<text x="412.5" y="409.3" font-size="11.25" text-anchor="start" fill="#111">GATA2 specific site</text>
<text x="412.5" y="435.8" font-size="11.25" text-anchor="start" fill="#111">GATA2/GATA1 site</text>
<text x="0.5" y="492" font-size="11" font-weight="bold" text-anchor="start" fill="#000">D</text>
<text x="24.5" y="552.2" font-size="11.3" text-anchor="middle" fill="#111" transform="rotate(-90 24.5 552.2)">Fold induction</text>
<line x1="40.2" y1="597.5" x2="220.8" y2="597.5" stroke="#8e8e8e" stroke-width="1.1"/>
<text x="37.5" y="599.9" font-size="5" text-anchor="end" fill="#383838" stroke="#383838" stroke-width="0.15">0</text>
<line x1="40.2" y1="583.94" x2="220.8" y2="583.94" stroke="#8e8e8e" stroke-width="1.1"/>
<text x="37.5" y="586.34" font-size="5" text-anchor="end" fill="#383838" stroke="#383838" stroke-width="0.15">0.2</text>
<line x1="40.2" y1="570.38" x2="220.8" y2="570.38" stroke="#8e8e8e" stroke-width="1.1"/>
<text x="37.5" y="572.78" font-size="5" text-anchor="end" fill="#383838" stroke="#383838" stroke-width="0.15">0.4</text>
<line x1="40.2" y1="556.82" x2="220.8" y2="556.82" stroke="#8e8e8e" stroke-width="1.1"/>
<text x="37.5" y="559.22" font-size="5" text-anchor="end" fill="#383838" stroke="#383838" stroke-width="0.15">0.6</text>
<line x1="40.2" y1="543.26" x2="220.8" y2="543.26" stroke="#8e8e8e" stroke-width="1.1"/>
<text x="37.5" y="545.66" font-size="5" text-anchor="end" fill="#383838" stroke="#383838" stroke-width="0.15">0.8</text>
<line x1="40.2" y1="529.7" x2="220.8" y2="529.7" stroke="#8e8e8e" stroke-width="1.1"/>
<text x="37.5" y="532.1" font-size="5" text-anchor="end" fill="#383838" stroke="#383838" stroke-width="0.15">1</text>
<line x1="40.2" y1="516.14" x2="220.8" y2="516.14" stroke="#8e8e8e" stroke-width="1.1"/>
<text x="37.5" y="518.54" font-size="5" text-anchor="end" fill="#383838" stroke="#383838" stroke-width="0.15">1.2</text>
<line x1="42.5" y1="516.14" x2="42.5" y2="597.5" stroke="#8e8e8e" stroke-width="1"/>
<rect x="56.4" y="529.7" width="17.1" height="67.79999999999995" fill="#868b92"/>
<line x1="64.95" y1="529.7" x2="64.95" y2="529.7" stroke="#2a2a2a" stroke-width="1.2" stroke-linecap="round"/>
<rect x="101" y="550.04" width="17.400000000000006" height="47.460000000000036" fill="#868b92"/>
<line x1="109.7" y1="539.3954" x2="109.7" y2="550.04" stroke="#2a2a2a" stroke-width="1.2" stroke-linecap="round"/>
<rect x="145.9" y="529.7" width="17.19999999999999" height="67.79999999999995" fill="#868b92"/>
<line x1="154.5" y1="529.7" x2="154.5" y2="529.7" stroke="#2a2a2a" stroke-width="1.2" stroke-linecap="round"/>
<rect x="190.3" y="549.362" width="17.299999999999983" height="48.138000000000034" fill="#868b92"/>
<line x1="198.95" y1="540.1412" x2="198.95" y2="549.362" stroke="#2a2a2a" stroke-width="1.2" stroke-linecap="round"/>
<text x="132.2" y="505" font-size="11" font-weight="bold" text-anchor="middle" fill="#000">Ikaros</text>
<path d="M65 523.5H109.6V534.5" stroke="#444" stroke-width="1" fill="none"/>
<path d="M155 523.2H198.8V535.5" stroke="#444" stroke-width="1" fill="none"/>
<text x="89.9" y="526.9" font-size="18.5" font-weight="bold" text-anchor="middle" fill="#111">*</text>
<text x="179.6" y="527.0" font-size="18.5" font-weight="bold" text-anchor="middle" fill="#111">*</text>
<text x="64.4" y="607.9" font-size="11.5" text-anchor="end" fill="#111" transform="rotate(-55 64.4 607.9)">Banshee</text>
<text x="110.9" y="607.4" font-size="11.5" text-anchor="end" fill="#111" transform="rotate(-55 110.9 607.4)">shGata2</text>
<text x="159.8" y="607.0" font-size="11.5" text-anchor="end" fill="#111" transform="rotate(-55 159.8 607.0)">Migr1</text>
<text x="204.6" y="606.5" font-size="11.5" text-anchor="end" fill="#111" transform="rotate(-55 204.6 606.5)">Gata1</text>
<text x="272" y="492" font-size="11" font-weight="bold" text-anchor="start" fill="#000">E</text>
<text x="334.9" y="487.4" font-size="12.6" font-weight="bold" text-anchor="end" fill="#111" transform="rotate(-58 334.9 487.4)">Banshee</text>
<text x="363.7" y="488.6" font-size="12.6" font-weight="bold" text-anchor="end" fill="#111" transform="rotate(-58 363.7 488.6)">shGata2</text>
<text x="386.3" y="500.2" font-size="12.6" font-weight="bold" text-anchor="end" fill="#111" transform="rotate(-58 386.3 500.2)">Migr1</text>
<text x="415.8" y="500.2" font-size="12.6" font-weight="bold" text-anchor="end" fill="#111" transform="rotate(-58 415.8 500.2)">Gata1</text>
<defs><filter id="bl" x="-20%" y="-80%" width="140%" height="260%"><feGaussianBlur stdDeviation="0.75"/></filter><filter id="bl2" x="-20%" y="-80%" width="140%" height="260%"><feGaussianBlur stdDeviation="1.4"/></filter></defs>
<rect x="286.6" y="533.4" width="61.799999999999955" height="15.899999999999977" fill="#f4f4f4" stroke="#262626" stroke-width="1.1"/>
<rect x="350.2" y="533.4" width="61.30000000000001" height="15.899999999999977" fill="#f4f4f4" stroke="#262626" stroke-width="1.1"/>
<rect x="286.6" y="562.3" width="61.799999999999955" height="15.900000000000091" fill="#f4f4f4" stroke="#262626" stroke-width="1.1"/>
<rect x="350.2" y="562.3" width="61.30000000000001" height="15.900000000000091" fill="#f4f4f4" stroke="#262626" stroke-width="1.1"/>
<rect x="286.6" y="581.5" width="61.799999999999955" height="15.799999999999955" fill="#f4f4f4" stroke="#262626" stroke-width="1.1"/>
<rect x="350.2" y="581.5" width="61.30000000000001" height="15.799999999999955" fill="#f4f4f4" stroke="#262626" stroke-width="1.1"/>
<rect x="286.6" y="600.7" width="61.799999999999955" height="15.699999999999932" fill="#f4f4f4" stroke="#262626" stroke-width="1.1"/>
<rect x="350.2" y="600.7" width="61.30000000000001" height="15.699999999999932" fill="#f4f4f4" stroke="#262626" stroke-width="1.1"/>
<defs><linearGradient id="g1" x1="0" x2="1" y1="0" y2="0"><stop offset="0" stop-color="#0e0e0e"/><stop offset="0.25" stop-color="#2a2a2a"/><stop offset="1" stop-color="#3a3a3a"/></linearGradient><linearGradient id="g2" x1="0" x2="1" y1="0" y2="0"><stop offset="0" stop-color="#222"/><stop offset="0.5" stop-color="#444"/><stop offset="1" stop-color="#3a3a3a"/></linearGradient></defs>
<rect x="320" y="537.75" width="27.5" height="7.5" rx="3.75" fill="#9a9a9a" opacity="0.8" filter="url(#bl2)"/>
<rect x="289" y="538.9000000000001" width="29" height="4.6" rx="2.3" fill="url(#g1)" opacity="1" filter="url(#bl)"/>
<rect x="321" y="539.2" width="26" height="4.6" rx="2.3" fill="url(#g2)" opacity="1" filter="url(#bl)"/>
<rect x="351" y="538.1999999999999" width="26.5" height="6.2" rx="3.1" fill="#0a0a0a" opacity="1" filter="url(#bl)"/>
<rect x="381" y="539.25" width="26" height="4.5" rx="2.25" fill="#cfcfd2" opacity="1" filter="url(#bl2)"/>
<rect x="401.5" y="539.5" width="5.0" height="4" rx="2.0" fill="#7a7a80" opacity="1" filter="url(#bl2)"/>
<rect x="288.3" y="564.9" width="31.19999999999999" height="8.2" rx="4.1" fill="#101010" opacity="1" filter="url(#bl)"/>
<rect x="318" y="566.8000000000001" width="29.600000000000023" height="5.6" rx="2.8" fill="#1c1c1c" opacity="1" filter="url(#bl)"/>
<rect x="351" y="564.9" width="28.5" height="8.2" rx="4.1" fill="#0e0e0e" opacity="1" filter="url(#bl)"/>
<rect x="379" y="566.9" width="30.5" height="5.4" rx="2.7" fill="#1c1c1c" opacity="1" filter="url(#bl)"/>
<rect x="374.0" y="585.1" width="34.5" height="8.6" rx="4.3" fill="#0c0c0c" opacity="1" filter="url(#bl)"/>
<rect x="288.2" y="603.5" width="31.80000000000001" height="8.8" rx="4.4" fill="#1a2121" opacity="1" filter="url(#bl)"/>
<rect x="316" y="604.7" width="31.80000000000001" height="8.6" rx="4.3" fill="#1a2121" opacity="1" filter="url(#bl)"/>
<rect x="351.2" y="603.8000000000001" width="31.80000000000001" height="8.8" rx="4.4" fill="#1a2121" opacity="1" filter="url(#bl)"/>
<rect x="379" y="604.7" width="31.80000000000001" height="8.6" rx="4.3" fill="#1a2121" opacity="1" filter="url(#bl)"/>
<text x="304" y="558.1" font-size="9.5" text-anchor="middle" fill="#222">1</text>
<text x="334.2" y="558.1" font-size="9.5" text-anchor="middle" fill="#222">0.88</text>
<text x="363.8" y="558.1" font-size="9.5" text-anchor="middle" fill="#222">1</text>
<text x="394.3" y="558.1" font-size="9.5" text-anchor="middle" fill="#222">0.28</text>
<text x="415.7" y="543.5" font-size="10.5" text-anchor="start" fill="#111">α-Ikaros (IK1)</text>
<text x="415.7" y="574.6" font-size="10.5" text-anchor="start" fill="#111">α-GATA-2</text>
<text x="415.7" y="592.6" font-size="10.5" text-anchor="start" fill="#111">α-GATA-1</text>
<text x="415.7" y="612.2" font-size="10.5" text-anchor="start" fill="#111">α-HSC70</text>
</svg>
</body></html>
